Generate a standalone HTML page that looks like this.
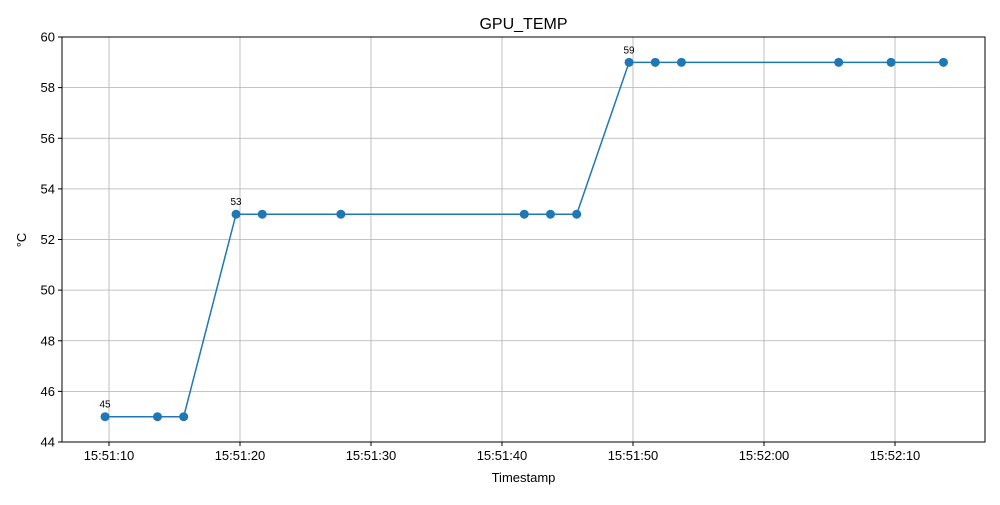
<!DOCTYPE html>
<html><head><meta charset="utf-8"><style>
body{margin:0;background:#fff;width:1000px;height:500px;overflow:hidden}
text{font-family:"Liberation Sans",sans-serif}
</style></head><body>
<svg id="chart" width="1000" height="500" xmlns="http://www.w3.org/2000/svg">
<text x="523.5" y="29" font-size="16" text-anchor="middle">GPU_TEMP</text>
<text x="523.5" y="482" font-size="13" text-anchor="middle">Timestamp</text>
<text transform="translate(26,240) rotate(-90)" font-size="13" text-anchor="middle">°C</text>
<g id="grid"></g><g id="axes"></g><g id="series"></g>
</svg>
<script>
const secs = [9.7,13.7,15.7,19.7,21.7,27.7,41.7,43.7,45.7,49.7,51.7,53.7,65.7,69.7,73.7];
const temps = [45,45,45,53,53,53,53,53,53,59,59,59,59,59,59];
const xTickSecs = [10,20,30,40,50,60,70];
const xTickLabels = ["15:51:10","15:51:20","15:51:30","15:51:40","15:51:50","15:52:00","15:52:10"];
const yTicks = [44,46,48,50,52,54,56,58,60];
const annotations = [[0,"45"],[3,"53"],[9,"59"]];

const L=62,R=985,T=37,B=442;
const x = s => 109 + (s-10)*13.1;
const y = v => B - (v-44)/(60-44)*(B-T);
const NS="http://www.w3.org/2000/svg";
function mk(tag,attrs,parent){const e=document.createElementNS(NS,tag);for(const k in attrs)e.setAttribute(k,attrs[k]);parent.appendChild(e);return e;}
const grid=document.getElementById('grid'),axes=document.getElementById('axes'),ser=document.getElementById('series');
xTickSecs.forEach((s,i)=>{
  const gl=mk('line',{x1:x(s),x2:x(s),y1:T,y2:B,stroke:'#b0b0b0','stroke-width':0.8},grid);
  
  
  mk('line',{x1:x(s),x2:x(s),y1:B,y2:B+4,stroke:'#000'},axes);
  const t=mk('text',{x:x(s),y:B+18,'font-size':13,'text-anchor':'middle'},axes);
  t.textContent=xTickLabels[i];
  
  
});
yTicks.forEach(v=>{
  const gl=mk('line',{x1:L,x2:R,y1:y(v),y2:y(v),stroke:'#b0b0b0','stroke-width':0.8},grid);
  
  
  mk('line',{x1:L-4,x2:L,y1:y(v),y2:y(v),stroke:'#000'},axes);
  const t=mk('text',{x:L-7,y:y(v)+4.5,'font-size':13,'text-anchor':'end'},axes);
  t.textContent=v;
  
  
});
const frame=mk('rect',{x:L,y:T,width:R-L,height:B-T,fill:'none',stroke:'#000','stroke-width':1},axes);


const line=mk('polyline',{points:secs.map((s,i)=>x(s)+','+y(temps[i])).join(' '),fill:'none',stroke:'#1f77b4','stroke-width':1.5},ser);


secs.forEach((s,i)=>{
  const c=mk('circle',{cx:x(s),cy:y(temps[i]),r:4.5,fill:'#1f77b4'},ser);
  
  
});
annotations.forEach(([i,lab])=>{
  const t=mk('text',{x:x(secs[i]),y:y(temps[i])-9,'font-size':10,'text-anchor':'middle'},ser);
  t.textContent=lab;
  
  
});
</script>
</body></html>
